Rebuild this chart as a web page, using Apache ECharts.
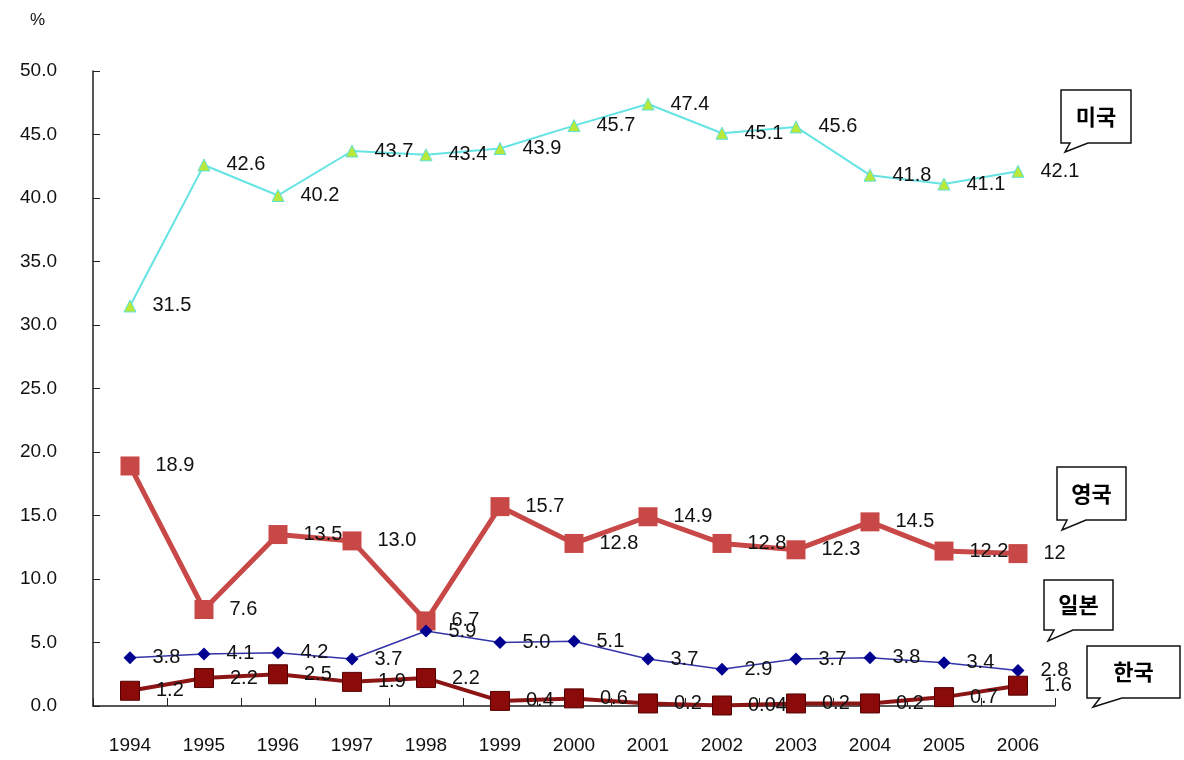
<!DOCTYPE html>
<html>
<head>
<meta charset="utf-8">
<script src="https://cdn.jsdelivr.net/npm/echarts@6/dist/echarts.min.js"></script>
<style>
html,body{margin:0;padding:0;background:#fff;}
#chart{width:1184px;height:760px;}
</style>
</head>
<body>
<div id="chart"></div>
<script>
var years = ['1994','1995','1996','1997','1998','1999','2000','2001','2002','2003','2004','2005','2006'];
var usValues = ['31.5','42.6','40.2','43.7','43.4','43.9','45.7','47.4','45.1','45.6','41.8','41.1','42.1'];
var ukValues = ['18.9','7.6','13.5','13.0','6.7','15.7','12.8','14.9','12.8','12.3','14.5','12.2','12'];
var jpValues = ['3.8','4.1','4.2','3.7','5.9','5.0','5.1','3.7','2.9','3.7','3.8','3.4','2.8'];
var krValues = ['1.2','2.2','2.5','1.9','2.2','0.4','0.6','0.2','0.04','0.2','0.2','0.7','1.6'];
var seriesNames = ['미국','영국','일본','한국'];
var yTicks = {min: 0, max: 50, interval: 5};

var numFont = 'Liberation Sans';
function lbl() {
  return {
    show: true, position: 'right', distance: 16,
    color: '#111', fontSize: 20, fontFamily: numFont,
    formatter: function (p) { return p.data; }
  };
}

function callout(x1, y1, x2, y2, bA, bB, tipX, tipY, text) {
  return {
    type: 'group',
    children: [
      {
        type: 'polygon',
        shape: { points: [[x1, y1], [x2, y1], [x2, y2], [bB, y2], [tipX, tipY], [bA, y2], [x1, y2]] },
        style: { fill: '#fff', stroke: '#111', lineWidth: 1.5 },
        z: 100
      },
      {
        type: 'text',
        x: (x1 + x2) / 2, y: (y1 + y2) / 2,
        style: {
          text: text, fill: '#000', font: 'bold 22px "Noto Sans CJK KR"',
          align: 'center', verticalAlign: 'middle'
        },
        z: 101
      }
    ]
  };
}

var chart = echarts.init(document.getElementById('chart'), null, {renderer: 'canvas'});
chart.setOption({
  animation: false,
  backgroundColor: '#fff',
  grid: { left: 93, right: 129, top: 71, bottom: 54, containLabel: false },
  xAxis: {
    type: 'category', data: years, boundaryGap: true,
    axisLine: { lineStyle: { color: '#222', width: 1.5 } },
    axisTick: { show: true, inside: true, length: 8, lineStyle: { color: '#222' } },
    axisLabel: { color: '#111', fontSize: 19, fontFamily: numFont, margin: 30 }
  },
  yAxis: {
    type: 'value', min: yTicks.min, max: yTicks.max, interval: yTicks.interval,
    axisLine: { show: true, lineStyle: { color: '#222', width: 1.5 } },
    axisTick: { show: true, inside: true, length: 7, lineStyle: { color: '#222' } },
    splitLine: { show: false },
    axisLabel: {
      color: '#111', fontSize: 19, fontFamily: numFont, margin: 36,
      formatter: function (v) { return v.toFixed(1); }
    }
  },
  graphic: [
    { type: 'text', x: 30, y: 12, style: { text: '%', fill: '#111', font: '17px "Liberation Sans"' } },
    callout(1061, 90, 1131, 143, 1070, 1088, 1065, 152, '미국'),
    callout(1057, 467, 1126, 520, 1067, 1086, 1062, 530, '영국'),
    callout(1044, 580, 1113, 630, 1054, 1073, 1048, 641, '일본'),
    callout(1087, 646, 1180, 698, 1100, 1122, 1093, 707, '한국')
  ],
  series: [
    {
      name: seriesNames[0], type: 'line', data: usValues,
      symbol: 'triangle', symbolSize: 12,
      itemStyle: { color: '#B8E83A', borderColor: '#5EE0E0', borderWidth: 1 },
      lineStyle: { color: '#66E3E3', width: 2 },
      label: lbl(), z: 2
    },
    {
      name: seriesNames[1], type: 'line', data: ukValues,
      symbol: 'rect', symbolSize: 19,
      itemStyle: { color: '#C84848' },
      lineStyle: { color: '#C84848', width: 5 },
      label: lbl(), z: 3
    },
    {
      name: seriesNames[2], type: 'line', data: jpValues,
      symbol: 'diamond', symbolSize: 13,
      itemStyle: { color: '#000090' },
      lineStyle: { color: '#3434A8', width: 1.5 },
      label: lbl(), z: 4
    },
    {
      name: seriesNames[3], type: 'line', data: krValues,
      symbol: 'rect', symbolSize: 19,
      itemStyle: { color: '#8B0A0A', borderColor: '#550000', borderWidth: 1 },
      lineStyle: { color: '#8B1515', width: 4 },
      label: lbl(), z: 5
    }
  ]
});
</script>
</body>
</html>
